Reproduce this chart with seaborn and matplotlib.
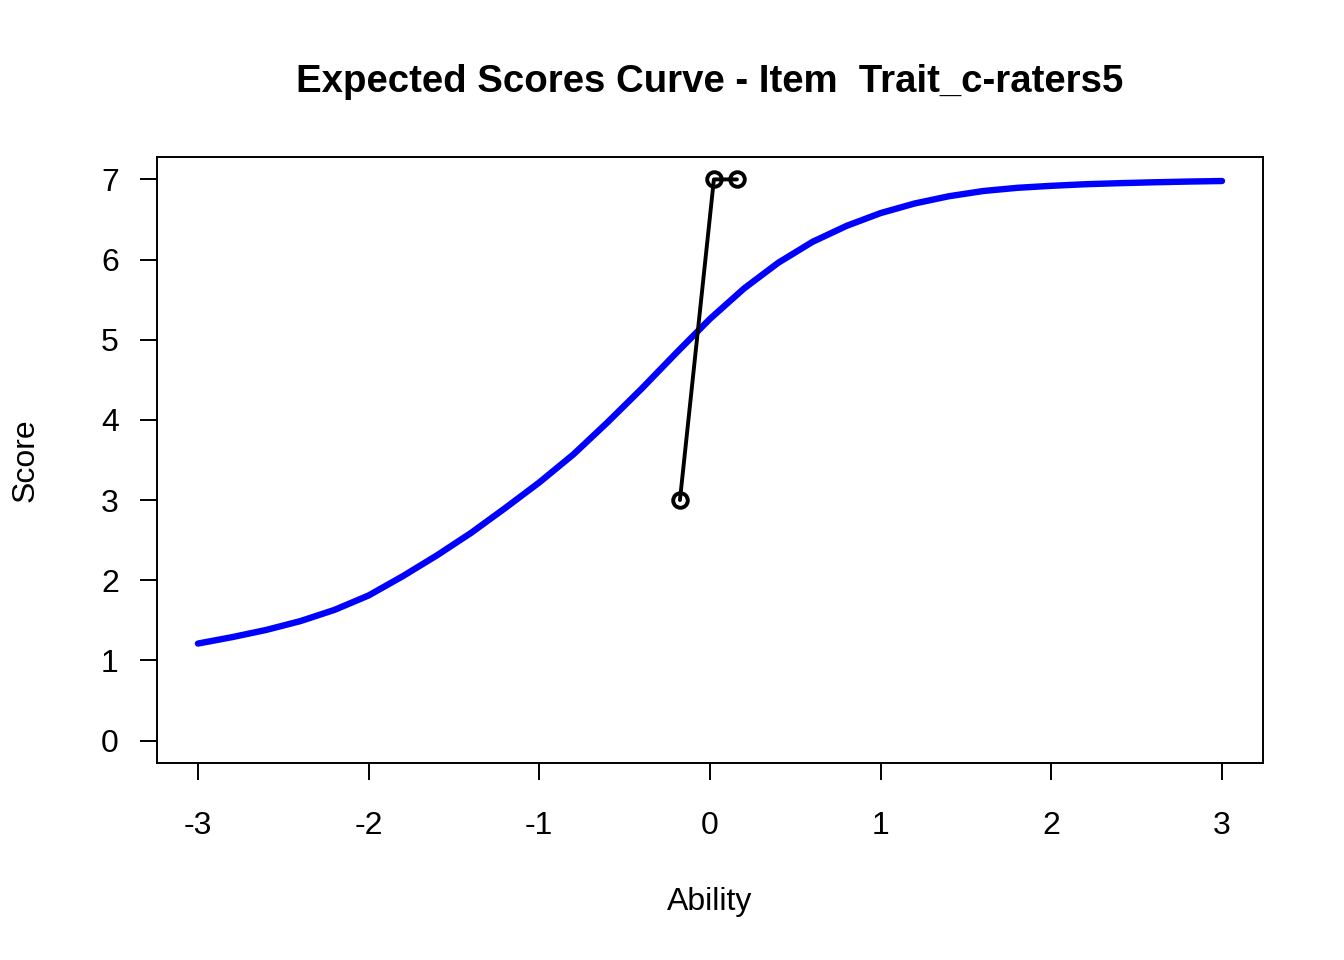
import matplotlib
matplotlib.use("Agg")
import matplotlib.pyplot as plt
import seaborn as sns

# expected score curve
ability = [-3.0, -2.8, -2.6, -2.4, -2.2, -2.0, -1.8, -1.6, -1.4, -1.2,
           -1.0, -0.8, -0.6, -0.4, -0.2, 0.0, 0.2, 0.4, 0.6, 0.8,
           1.0, 1.2, 1.4, 1.6, 1.8, 2.0, 2.2, 2.4, 2.6, 2.8, 3.0]
expected = [1.21, 1.29, 1.38, 1.49, 1.63, 1.81, 2.05, 2.31, 2.59, 2.90,
            3.22, 3.57, 3.97, 4.39, 4.83, 5.26, 5.64, 5.96, 6.22, 6.42,
            6.58, 6.70, 6.79, 6.855, 6.895, 6.92, 6.94, 6.953, 6.964, 6.973, 6.98]

# observed points (black)
obs_ability = [-0.176, 0.023, 0.158]
obs_score = [3, 7, 7]

x_ticks = [-3, -2, -1, 0, 1, 2, 3]
y_ticks = [0, 1, 2, 3, 4, 5, 6, 7]

sns.set_theme(style="ticks", rc={
    "axes.edgecolor": "black",
    "axes.linewidth": 1.4,
    "xtick.color": "black",
    "ytick.color": "black",
    "text.color": "black",
    "axes.labelcolor": "black",
})
plt.rcParams["font.family"] = ["Liberation Sans", "DejaVu Sans"]

fig = plt.figure(figsize=(13.44, 9.6), dpi=100)
ax = fig.add_axes([0.1168, 0.2052, 0.8229, 0.6313])

sns.lineplot(x=ability, y=expected, ax=ax, color="blue", linewidth=4.6,
             solid_capstyle="round", solid_joinstyle="round")
sns.lineplot(x=obs_ability, y=obs_score, ax=ax, sort=False, color="black",
             linewidth=2.8, marker="o", markersize=10.5,
             markerfacecolor="none", markeredgecolor="black",
             markeredgewidth=2.8)

ax.set_xlim(-3.24, 3.24)
ax.set_ylim(-0.28, 7.28)
ax.set_xticks(x_ticks)
ax.set_xticklabels([str(v) for v in x_ticks])
ax.set_yticks(y_ticks)
ax.set_yticklabels([str(v) for v in y_ticks])
ax.tick_params(axis="both", labelsize=23, length=12.5, width=1.4,
               direction="out")
ax.tick_params(axis="x", pad=22)
ax.tick_params(axis="y", pad=15)
for s in ax.spines.values():
    s.set_visible(True)

ax.set_xlabel("Ability", fontsize=23, va="center")
ax.xaxis.set_label_coords(0.5, -0.229)
ax.set_ylabel("Score", fontsize=23, va="center")
ax.yaxis.set_label_coords(-0.119, 0.5)

fig.text(0.5283, 1 - 82 / 960, "Expected Scores Curve - Item  Trait_c-raters5",
         ha="center", va="center", fontsize=27.6, fontweight="bold")

fig.savefig("out.png", dpi=100, facecolor="white")
